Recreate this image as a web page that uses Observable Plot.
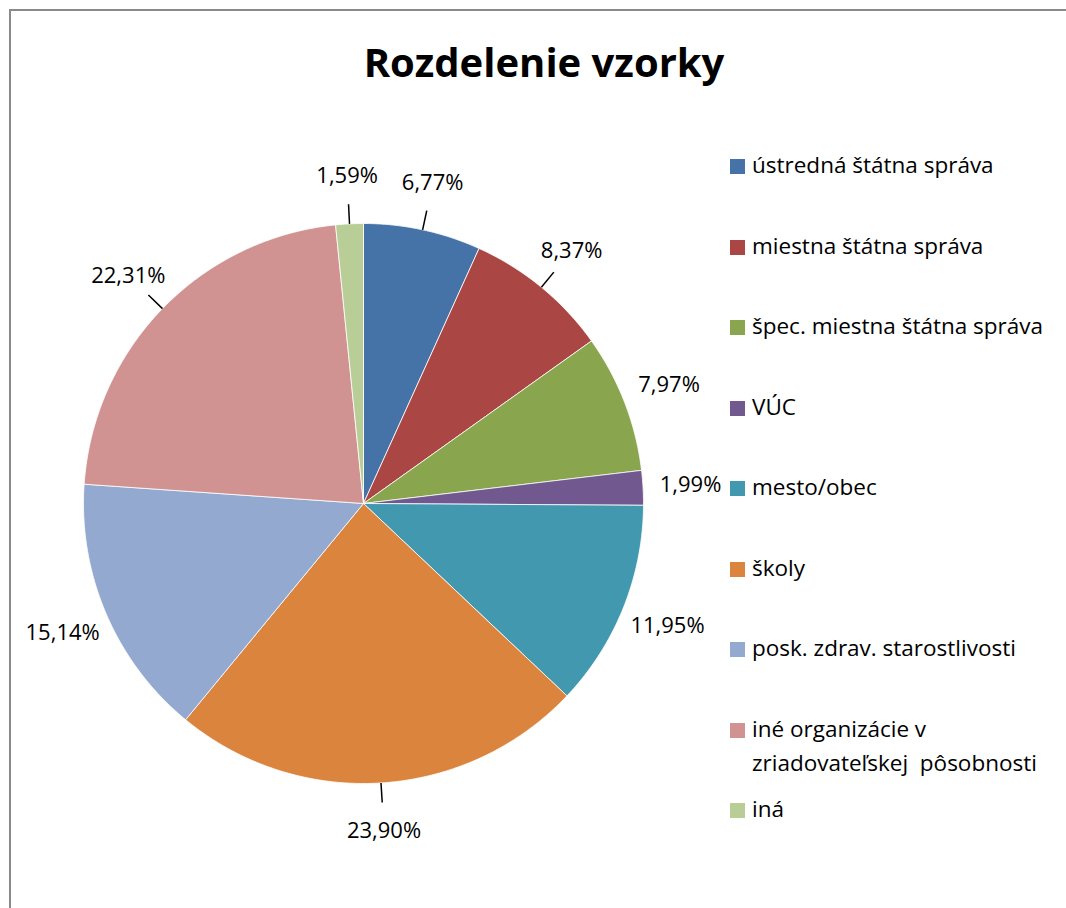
<!DOCTYPE html>
<html>
<head>
<meta charset="utf-8">
<script src="https://cdn.jsdelivr.net/npm/d3@7"></script>
<script src="https://cdn.jsdelivr.net/npm/@observablehq/plot@0.6"></script>
<style>
  html, body { margin: 0; padding: 0; background: #fff; }
  body { font-family: "Open Sans", "Noto Sans", sans-serif; color: #000; }
  #frame { position: relative; width: 1066px; height: 908px; overflow: hidden; }
  #border { position: absolute; left: 9px; top: 9px; width: 1200px; height: 1200px;
            border-left: 2px solid #8a8a8a; border-top: 2px solid #8a8a8a; }
  #title { position: absolute; left: 0; top: 0; width: 1088px; height: 110px; text-align: center;
           font-weight: bold; font-size: 40px; line-height: 124px; }
  #plot { position: absolute; left: 0; top: 110px; }
  #legend { position: absolute; left: 730px; top: 148px; width: 318px; }
  .item { height: 80.5px; display: flex; align-items: flex-start; font-size: 22.5px; line-height: 34px; }
  .sw { width: 15px; height: 15px; margin-top: 11px; margin-right: 7px; flex: none; }
</style>
</head>
<body>
<div id="frame">
  <div id="border"></div>
  <div id="title"></div>
  <div id="plot"></div>
  <div id="legend"></div>
</div>
<script>
const titleText = "Rozdelenie vzorky";
const categories = [
  "ústredná štátna správa",
  "miestna štátna správa",
  "špec. miestna štátna správa",
  "VÚC",
  "mesto/obec",
  "školy",
  "posk. zdrav. starostlivosti",
  "iné organizácie v zriadovateľskej\u00a0 pôsobnosti",
  "iná"
];
const values = [6.77, 8.37, 7.97, 1.99, 11.95, 23.90, 15.14, 22.31, 1.59];
const colors = ["#4572A7", "#AA4643", "#89A54E", "#71588F", "#4198AF", "#DB843D", "#93A9CF", "#D19392", "#B9CD96"];

document.getElementById("title").textContent = titleText;

// pie geometry (pixels inside the SVG)
const W = 726, H = 798, cx = 363, cy = 393, R = 280;

const arcs = d3.pie().sort(null).value(d => d.value)(
  categories.map((c, i) => ({cat: c, value: values[i]}))
);

const pts = [];
for (const a of arcs) {
  pts.push({cat: a.data.cat, x: 0, y: 0});
  const n = Math.max(2, Math.ceil((a.endAngle - a.startAngle) / (Math.PI / 360)));
  for (let k = 0; k <= n; k++) {
    const t = a.startAngle + (a.endAngle - a.startAngle) * k / n;
    pts.push({cat: a.data.cat, x: Math.sin(t), y: Math.cos(t)});
  }
  pts.push({cat: a.data.cat, x: 0, y: 0});
}

const fmt = v => v.toFixed(2).replace(".", ",") + "%";
const labelData = arcs.map(a => {
  const m = (a.startAngle + a.endAngle) / 2;
  return {cat: a.data.cat, text: fmt(a.data.value), m, x: 1.17 * Math.sin(m), y: 1.17 * Math.cos(m)};
});
const leaders = labelData.filter(d => Math.abs(Math.sin(d.m)) < 0.85).map(d => ({
  x1: 1.0 * Math.sin(d.m), y1: 1.0 * Math.cos(d.m),
  x2: 1.07 * Math.sin(d.m), y2: 1.07 * Math.cos(d.m)
}));

const chart = Plot.plot({
  width: W, height: H, margin: 0,
  style: {background: "transparent", fontFamily: "'Open Sans', sans-serif", overflow: "visible"},
  x: {domain: [-1, 1], range: [cx - R, cx + R], axis: null},
  y: {domain: [-1, 1], range: [cy + R, cy - R], axis: null},
  color: {domain: categories, range: colors},
  marks: [
    Plot.line(pts, {x: "x", y: "y", z: "cat", fill: "cat", stroke: "white", strokeWidth: 0.8, curve: "linear"}),
    Plot.link(leaders, {x1: "x1", y1: "y1", x2: "x2", y2: "y2", stroke: "black", strokeWidth: 1.5}),
    Plot.text(labelData, {x: "x", y: "y", text: "text", fontSize: 22, fill: "black", textAnchor: "middle", lineAnchor: "middle"})
  ]
});
document.getElementById("plot").appendChild(chart);

const legend = document.getElementById("legend");
categories.forEach((c, i) => {
  const item = document.createElement("div");
  item.className = "item";
  const sw = document.createElement("div");
  sw.className = "sw";
  sw.style.background = colors[i];
  const tx = document.createElement("div");
  tx.textContent = c;
  item.appendChild(sw);
  item.appendChild(tx);
  legend.appendChild(item);
});
</script>
</body>
</html>
